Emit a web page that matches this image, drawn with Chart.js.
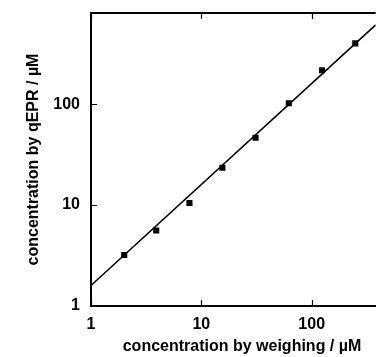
<!DOCTYPE html>
<html>
<head>
<meta charset="utf-8">
<script src="https://cdn.jsdelivr.net/npm/chart.js@4.4.1/dist/chart.umd.min.js"></script>
<style>
  html, body { margin: 0; padding: 0; background: #fff; }
  #wrap { width: 380px; height: 357px; }
</style>
</head>
<body>
<div id="wrap"><canvas id="c" width="380" height="357"></canvas></div>
<script>
// measured points (concentration by weighing vs by qEPR, µM)
const weighed = [2, 3.9, 7.8, 15.5, 31, 62, 124, 248];
const qepr = [3.2, 5.6, 10.5, 23.4, 46.4, 102, 217, 400];

// fitted line end points
const fitX = [1, 380];
const fitY = [1.6, 610];

const xMajor = [1, 10, 100];
const yMajor = [1, 10, 100];
const xTitle = 'concentration by weighing / µM';
const yTitle = 'concentration by qEPR / µM';

const FONT = "'Liberation Sans', Arial, Helvetica, sans-serif";

// inward tick marks on left, bottom and top edges, top frame line, x title
// (the original plot runs past the right edge, so its title sits right of centre)
const tickPlugin = {
  id: 'inTicks',
  afterDraw(chart) {
    const { ctx, chartArea: a } = chart;
    const xs = chart.scales.x, ys = chart.scales.y;
    ctx.save();
    ctx.strokeStyle = '#000';
    ctx.lineWidth = 1.2;
    ctx.beginPath();
    xs.ticks.forEach(t => {
      if (t.value >= xs.max) return;
      const px = Math.round(xs.getPixelForValue(t.value)) + 0.5;
      const len = xMajor.includes(t.value) ? 6 : 3;
      ctx.moveTo(px, a.bottom); ctx.lineTo(px, a.bottom - len);
      ctx.moveTo(px, a.top); ctx.lineTo(px, a.top + len);
    });
    ys.ticks.forEach(t => {
      if (t.value >= ys.max) return;
      const py = Math.round(ys.getPixelForValue(t.value)) + 0.5;
      const len = yMajor.includes(t.value) ? 6 : 3;
      ctx.moveTo(a.left, py); ctx.lineTo(a.left + len, py);
    });
    ctx.stroke();
    ctx.lineWidth = 2;
    ctx.beginPath();
    ctx.moveTo(a.left - 1, a.top);
    ctx.lineTo(a.right, a.top);
    ctx.stroke();

    ctx.fillStyle = '#000';
    ctx.font = 'bold 16px ' + FONT;
    ctx.textAlign = 'center';
    ctx.textBaseline = 'middle';
    ctx.fillText(xTitle, 242, 347);
    ctx.restore();
  }
};

new Chart(document.getElementById('c'), {
  type: 'scatter',
  data: {
    datasets: [
      {
        type: 'line',
        data: fitX.map((x, i) => ({ x, y: fitY[i] })),
        borderColor: '#000',
        borderWidth: 1.5,
        pointRadius: 0,
        fill: false
      },
      {
        data: weighed.map((x, i) => ({ x, y: qepr[i] })),
        pointStyle: 'rect',
        pointRadius: 4.3,
        backgroundColor: '#000',
        borderColor: '#000',
        borderWidth: 0
      }
    ]
  },
  options: {
    responsive: false,
    animation: false,
    layout: { padding: { top: 13, right: 0, left: 0, bottom: 0 } },
    plugins: { legend: { display: false }, tooltip: { enabled: false } },
    scales: {
      x: {
        type: 'logarithmic',
        min: 1, max: 380,
        grid: { display: false, drawTicks: false },
        border: { display: true, color: '#000', width: 2 },
        ticks: {
          autoSkip: false, maxRotation: 0, padding: 9,
          color: '#000', font: { family: FONT, size: 16, weight: 'bold' },
          callback: v => xMajor.includes(v) ? String(v) : null
        },
        title: { display: false },
        afterFit: s => { s.height = 51; s.paddingLeft = 0; s.paddingRight = 0; }
      },
      y: {
        type: 'logarithmic',
        min: 1, max: 800,
        grid: { display: false, drawTicks: false },
        border: { display: true, color: '#000', width: 2 },
        ticks: {
          autoSkip: false, padding: 11,
          color: '#000', font: { family: FONT, size: 16, weight: 'bold' },
          callback: v => yMajor.includes(v) ? String(v) : null
        },
        title: {
          display: true, text: yTitle, color: '#000',
          font: { family: FONT, size: 16, weight: 'bold' }, padding: { top: 24, bottom: 0 }
        },
        afterFit: s => { s.width = 91; s.paddingTop = 0; s.paddingBottom = 0; }
      }
    }
  },
  plugins: [tickPlugin]
});
</script>
</body>
</html>
